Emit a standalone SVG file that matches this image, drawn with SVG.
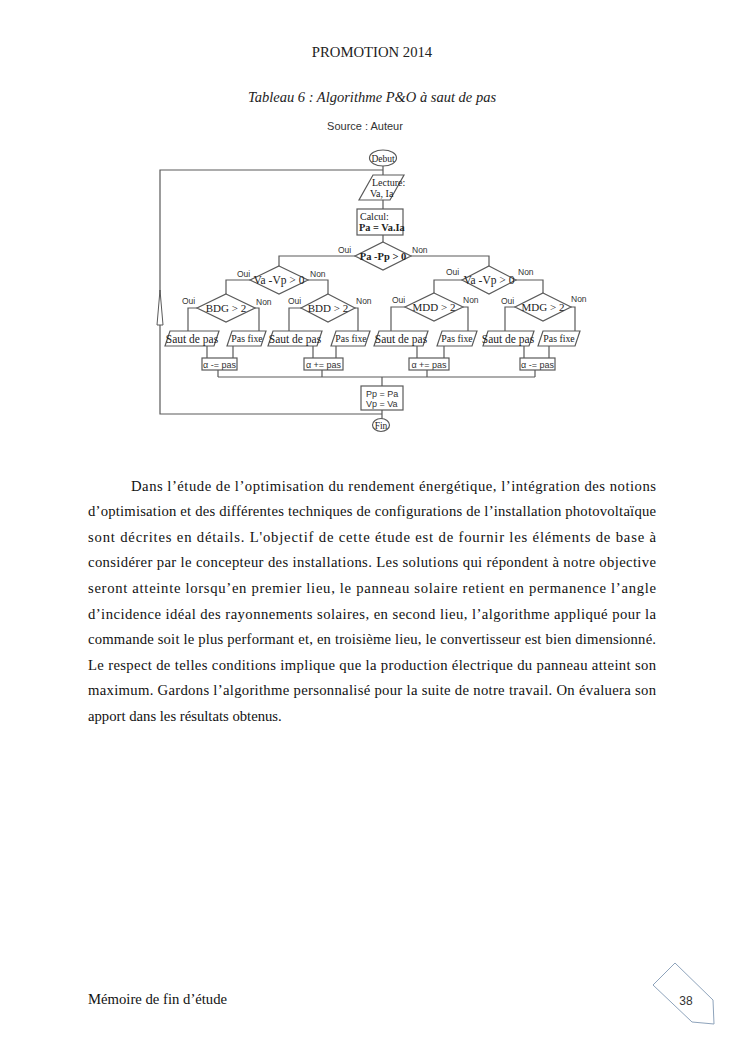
<svg xmlns="http://www.w3.org/2000/svg" width="745" height="1053" viewBox="0 0 745 1053">
<style>
.ln{fill:none;stroke:#5a5a5a;stroke-width:1.2}
.sh{fill:#fff;stroke:#5a5a5a;stroke-width:1.2}
.tm{font-family:"Liberation Serif",serif;fill:#222}
.sn{font-family:"Liberation Sans",sans-serif;fill:#333}
.lab{font-family:"Liberation Sans",sans-serif;fill:#333;font-size:8.5px}
.body{font-family:"Liberation Serif",serif;font-size:14.7px;fill:#111}
</style>
<rect width="745" height="1053" fill="#fff"/>
<text class="tm" x="372" y="57" font-size="14.7" text-anchor="middle" fill="#111">PROMOTION 2014</text>
<text class="tm" x="372" y="102" font-size="14.5" font-style="italic" text-anchor="middle" fill="#111">Tableau 6 : Algorithme P&amp;O à saut de pas</text>
<text class="sn" x="365" y="130" font-size="11" text-anchor="middle" fill="#111">Source : Auteur</text>

<g id="connectors">
<path class="ln" d="M383,166 V175 M383,200 V209 M383,235 V242"/>
<path class="ln" d="M383,170 H160 V414 H382"/>
<polygon points="160,290 157,325 163,325" fill="#fff" stroke="#5a5a5a" stroke-width="1"/>
<path class="ln" d="M355,256 H279 V266 M411,256 H489 V266"/>
<path class="ln" d="M250,280 H226 V294 M308,280 H328 V294"/>
<path class="ln" d="M462,280 H434 V293 M516,280 H543 V293"/>
<path class="ln" d="M197,308 H188 V331 M255,308 H259 V331"/>
<path class="ln" d="M301,308 H289 V331 M355,308 H358 V331"/>
<path class="ln" d="M405,307 H391 V331 M463,307 H468 V331"/>
<path class="ln" d="M515,307 H505 V331 M571,307 H575 V331"/>
<path class="ln" d="M207,346 V358 M233,346 V358 M313,346 V358 M336,346 V358 M417,346 V358 M444,346 V358 M524,346 V358 M549,346 V358"/>
<path class="ln" d="M218,370 V377 M322,370 V377 M427,370 V377 M535,370 V377 M218,377 H535 M382,377 V386 M382,410 V419"/>
</g>

<g id="debut"><ellipse class="sh" cx="383" cy="158" rx="13.5" ry="8"/><text class="tm" x="383" y="161.5" font-size="9.5" text-anchor="middle">Debut</text></g>
<g id="lecture"><polygon class="sh" points="373,175 404,175 390,200 359,200"/><text class="tm" x="372" y="185.5" font-size="10">Lecture:</text><text class="tm" x="370" y="196.5" font-size="10">Va, Ia</text></g>
<g id="calcul"><rect class="sh" x="357" y="209" width="46" height="26"/><text class="tm" x="360" y="219.5" font-size="10">Calcul:</text><text class="tm" x="359" y="231" font-size="10.3" font-weight="bold">Pa = Va.Ia</text></g>
<g id="d-papp"><polygon class="sh" points="383,242 411,256 383,270 355,256"/><text class="tm" x="383" y="260" font-size="10.5" font-weight="bold" text-anchor="middle">Pa -Pp &gt; 0</text><text class="lab" x="338" y="253">Oui</text><text class="lab" x="412" y="253">Non</text></g>

<g id="d-vavp-l"><polygon class="sh" points="279,266 308,280 279,294 250,280"/><text class="tm" x="279" y="284" font-size="11.5" text-anchor="middle">Va -Vp &gt; 0</text><text class="lab" x="237" y="277">Oui</text><text class="lab" x="310" y="277">Non</text></g>
<g id="d-vavp-r"><polygon class="sh" points="489,266 516,280 489,294 462,280"/><text class="tm" x="489" y="284" font-size="11.5" text-anchor="middle">Va -Vp &gt; 0</text><text class="lab" x="446" y="275">Oui</text><text class="lab" x="518" y="275">Non</text></g>

<g id="d-bdg"><polygon class="sh" points="226,294 255,308 226,322 197,308"/><text class="tm" x="226" y="312" font-size="11" text-anchor="middle">BDG &gt; 2</text><text class="lab" x="182" y="304">Oui</text><text class="lab" x="256" y="305">Non</text></g>
<g id="d-bdd"><polygon class="sh" points="328,294 355,308 328,322 301,308"/><text class="tm" x="328" y="312" font-size="11" text-anchor="middle">BDD &gt; 2</text><text class="lab" x="288" y="304">Oui</text><text class="lab" x="356" y="304">Non</text></g>
<g id="d-mdd"><polygon class="sh" points="434,293 463,307 434,321 405,307"/><text class="tm" x="434" y="311" font-size="11" text-anchor="middle">MDD &gt; 2</text><text class="lab" x="392" y="303">Oui</text><text class="lab" x="463" y="303">Non</text></g>
<g id="d-mdg"><polygon class="sh" points="543,293 571,307 543,321 515,307"/><text class="tm" x="543" y="311" font-size="11" text-anchor="middle">MDG &gt; 2</text><text class="lab" x="501" y="304">Oui</text><text class="lab" x="571" y="302">Non</text></g>

<g id="saut1"><polygon class="sh" points="170,331 219,331 214,346 165,346"/><text class="tm" x="192" y="342.5" font-size="11.5" text-anchor="middle">Saut de pas</text></g>
<g id="fixe1"><polygon class="sh" points="232,331 266,331 261,346 227,346"/><text class="tm" x="247" y="341.5" font-size="9.8" text-anchor="middle">Pas fixe</text></g>
<g id="saut2"><polygon class="sh" points="273,331 322,331 317,346 268,346"/><text class="tm" x="295" y="342.5" font-size="11.5" text-anchor="middle">Saut de pas</text></g>
<g id="fixe2"><polygon class="sh" points="336,331 370,331 365,346 331,346"/><text class="tm" x="351" y="341.5" font-size="9.8" text-anchor="middle">Pas fixe</text></g>
<g id="saut3"><polygon class="sh" points="379,331 428,331 423,346 374,346"/><text class="tm" x="401" y="342.5" font-size="11.5" text-anchor="middle">Saut de pas</text></g>
<g id="fixe3"><polygon class="sh" points="442,331 477,331 472,346 437,346"/><text class="tm" x="457" y="341.5" font-size="9.8" text-anchor="middle">Pas fixe</text></g>
<g id="saut4"><polygon class="sh" points="488,331 534,331 529,346 483,346"/><text class="tm" x="508" y="342.5" font-size="11.5" text-anchor="middle">Saut de pas</text></g>
<g id="fixe4"><polygon class="sh" points="543,331 580,331 575,346 538,346"/><text class="tm" x="559" y="341.5" font-size="9.8" text-anchor="middle">Pas fixe</text></g>

<g id="alpha1"><rect class="sh" x="202" y="358" width="35" height="12"/><text class="sn" x="219.5" y="367.5" font-size="9" text-anchor="middle">α -= pas</text></g>
<g id="alpha2"><rect class="sh" x="304" y="358" width="39" height="12"/><text class="sn" x="323.5" y="367.5" font-size="9" text-anchor="middle">α += pas</text></g>
<g id="alpha3"><rect class="sh" x="409" y="358" width="40" height="12"/><text class="sn" x="429" y="367.5" font-size="9" text-anchor="middle">α += pas</text></g>
<g id="alpha4"><rect class="sh" x="520" y="358" width="35" height="12"/><text class="sn" x="537.5" y="367.5" font-size="9" text-anchor="middle">α -= pas</text></g>

<g id="update"><rect class="sh" x="361" y="386" width="42" height="24"/><text class="sn" x="366" y="396.5" font-size="9">Pp = Pa</text><text class="sn" x="366" y="406.5" font-size="9">Vp = Va</text></g>
<g id="fin"><ellipse class="sh" cx="381" cy="425" rx="8.5" ry="6.5"/><text class="tm" x="381" y="428.5" font-size="9.5" text-anchor="middle">Fin</text></g>

<g id="paragraph">
<text class="body" x="131" y="491" textLength="525" lengthAdjust="spacing">Dans l’étude de l’optimisation du rendement énergétique, l’intégration des notions</text>
<text class="body" x="88" y="516" textLength="568" lengthAdjust="spacing">d’optimisation et des différentes techniques de configurations de l’installation photovoltaïque</text>
<text class="body" x="88" y="542" textLength="568" lengthAdjust="spacing">sont décrites en détails. L'objectif de cette étude est de fournir les éléments de base à</text>
<text class="body" x="88" y="567" textLength="568" lengthAdjust="spacing">considérer par le concepteur des installations. Les solutions qui répondent à notre objective</text>
<text class="body" x="88" y="593" textLength="568" lengthAdjust="spacing">seront atteinte lorsqu’en premier lieu, le panneau solaire retient en permanence l’angle</text>
<text class="body" x="88" y="619" textLength="568" lengthAdjust="spacing">d’incidence idéal des rayonnements solaires, en second lieu, l’algorithme appliqué pour la</text>
<text class="body" x="88" y="644" textLength="568" lengthAdjust="spacing">commande soit le plus performant et, en troisième lieu, le convertisseur est bien dimensionné.</text>
<text class="body" x="88" y="670" textLength="568" lengthAdjust="spacing">Le respect de telles conditions implique que la production électrique du panneau atteint son</text>
<text class="body" x="88" y="695" textLength="568" lengthAdjust="spacing">maximum. Gardons l’algorithme personnalisé pour la suite de notre travail. On évaluera son</text>
<text class="body" x="88" y="721">apport dans les résultats obtenus.</text>
</g>

<text class="body" x="88" y="1004">Mémoire de fin d’étude</text>
<g id="page-number"><polygon points="675,963 653,985 692,1022 714,1024 713,1000" fill="#fff" stroke="#8ea3bb" stroke-width="1"/><text class="sn" x="686" y="1005" font-size="12" text-anchor="middle" fill="#111">38</text></g>
</svg>
